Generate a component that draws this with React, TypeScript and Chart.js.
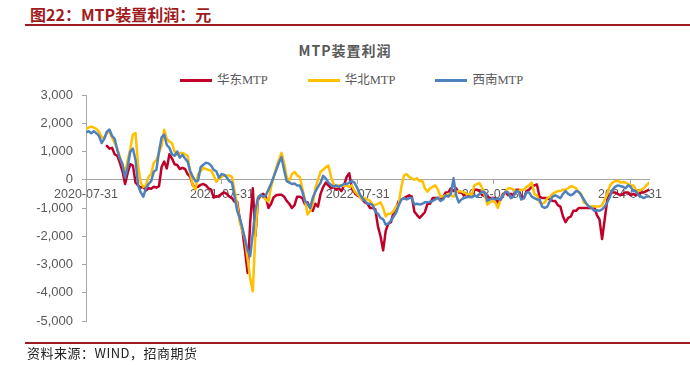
import React, { useEffect, useRef } from "react";
import { Chart, registerables } from "chart.js";

Chart.register(...registerables);

// Weekly observations starting 2020-07-31 (index * 7 days)
const WEEK_DAYS = 7;
const tickDays = [0, 365, 730, 1095, 1461];
const tickLabels = ["2020-07-31", "2021-07-31", "2022-07-31", "2023-07-31", "2024-07-31"];
const seriesNames = ["华东MTP", "华北MTP", "西南MTP"];
const seriesColors = ["#C00028", "#FFC000", "#4F81BD"];

const huadong: (number | null)[] = [
  null, null, null, null, null, null, null, null, 1200, 1100,
  1130, 900, 850, 600, 300, -150, 250, 550, 500, -100,
  -200, -280, -250, -380, -300, -320, -250, -280, -230, 450,
  640, 400, 900, 750, 550, 520, 380, 420, 380, 200,
  100, -200, -260, -250, -180, -150, -200, -300, -350, -630,
  -580, -600, -500, -450, -500, -600, -650, -780, -780, -1400,
  -1800, -2500, -3300, -1500, -300, -2000, -700, -550, -500, -600,
  -1000, -850, -620, -550, -530, -530, -600, -750, -850, -1000,
  -900, -600, -600, -650, -870, -800, -1000, -1100, -850, -950,
  -500, -250, -100, -200, -300, -250, -350, -300, -400, -200,
  100, 230, -300, -450, -550, -600, -700, -800, -850, -1000,
  -1000, -1050, -1650, -2000, -2500, -1800, -1550, -1500, -1150, -1000,
  -750, -700, -650, -600, -550, -600, -1130, -1250, -1350, -1250,
  -1150, -850, -850, -650, -650, -650, -700, -600, -450, -450,
  -300, -400, -300, -450, -450, -550, -500, -550, -550, -350,
  -350, -400, -550, -550, -600, -650, -650, -650, -800, -700,
  -500, -450, -550, -500, -550, -350, -350, -600, -650, -400,
  -350, -250, -200, -170, -600, -650, -650, -650, -700, -750,
  -750, -900, -950, -1300, -1500, -1350, -1300, -1100, -1100, -1000,
  -1000, -1000, -1000, -1000, -1000, -950, -1250, -1400, -2100, -1400,
  -700, -500, -450, -450, -500, -550, -500, -450, -450, -550,
  -500, -550, -500, -450, -450, -400, -350,
];

const huabei: number[] = [
  1800, 1850, 1880, 1850, 1800, 1700, 1500, 1480, 1650, 1700,
  1500, 1300, 1100, 800, 550, 200, 700, 1100, 1600, 1650,
  500, -100, -250, -200, 100, 200, 600, 700, 950, 1200,
  1770, 1450, 1350, 1300, 1000, 880, 950, 950, 900, 850,
  200, -200, -350, 200, 300, 420, 380, 350, 320, 150,
  -70, 50, 100, 150, 150, 150, 100, -400, -900, -1500,
  -1800, -2100, -2800, -3500, -3950, -1900, -600, -550, -620, -700,
  -780, -250, 100, 420, 700, 950, 600, 100, -50, 200,
  280, 150, 100, -300, -700, -1230, -1100, -880, -300, 0,
  280, 350, 450, 500, 100, -150, -250, -200, -200, -220,
  -200, -250, -200, -400, -500, -600, -700, -650, -700, -750,
  -880, -900, -850, -800, -1000, -1300, -1200, -1200, -1100, -950,
  -850, -250, 150, 200, 100, 50, 0, 50, -50, -30,
  -300, -420, -300, -250, -200, -350, -600, -580, -550, -500,
  -550, -600, -450, -400, -420, -450, -500, -500, -550, -200,
  -150, -120, -300, -550, -880, -800, -750, -800, -1000, -700,
  -550, -400, -300, -300, -350, -400, -400, -350, -350, -250,
  -200, -100, -500, -550, -800, -850, -800, -650, -600, -500,
  -450, -400, -400, -350, -350, -300, -230, -250, -300, -450,
  -500, -800, -850, -950, -950, -950, -950, -950, -900, -700,
  -500, -200, -100, -50, -30, -100, -80, -100, -150, -200,
  -200, -350, -400, -350, -300, -200, -100,
];

const xinan: number[] = [
  1680, 1720, 1650, 1720, 1650, 1550, 1300, 1450, 1700, 1780,
  1550, 1450, 1060, 750, 550, 70, 460, 1000, 1100, 700,
  -200, -450, -600, -300, -150, -50, 280, 350, 1000, 1500,
  1600, 1230, 1130, 900, 850, 1000, 780, 880, 750, 640,
  300, 100, -50, -30, 450, 530, 600, 580, 500, 350,
  300, 70, 200, 180, 80, -50, -100, -600, -1100, -1350,
  -1700, -2100, -2500, -2700, -1900, -1060, -640, -530, -600, -550,
  -350, -140, 100, 350, 600, 800, 350, -50, -100, -150,
  -130, -200, -200, -420, -750, -850, -1000, -640, -420, -250,
  -100, 140, 50, -100, -180, -250, -200, -250, -200, -150,
  -150, -100, -50, -100, -280, -500, -650, -750, -850, -850,
  -900, -1130, -1200, -1350, -1400, -1590, -1550, -1450, -1300, -1160,
  -900, -700, -650, -700, -650, -650, -880, -850, -880, -850,
  -800, -800, -780, -750, -700, -630, -750, -700, -550, -600,
  -500, 50, -550, -800, -700, -650, -620, -600, -620, -550,
  -600, -500, -420, -450, -750, -700, -650, -700, -650, -720,
  -550, -420, -450, -650, -600, -400, -420, -700, -650, -450,
  -450, -600, -650, -700, -700, -950, -1000, -950, -750, -600,
  -550, -600, -650, -500, -400, -500, -550, -500, -400, -420,
  -550, -700, -850, -950, -1000, -1100, -1080, -1100, -1050, -950,
  -800, -600, -350, -250, -200, -220, -250, -300, -200, -250,
  -400, -400, -550, -600, -650, -600, -580,
];

const seriesValues = [huadong, huabei, xinan];
const drawOrder = [2, 1, 0];

const DARK_RED = "#9E1B20";
const GREY = "#595959";
const AXIS = "#A6A6A6";
const CJK = '"Noto Sans CJK SC", "Liberation Sans", sans-serif';

export default function App() {
  const canvasRef = useRef<HTMLCanvasElement | null>(null);

  useEffect(() => {
    if (!canvasRef.current) return;
    const datasets = seriesValues.map((arr, k) => ({
      label: seriesNames[k],
      data: arr.map((v, i) => ({ x: i * WEEK_DAYS, y: v })),
      borderColor: seriesColors[k],
      backgroundColor: seriesColors[k],
      borderWidth: 2.5,
      borderJoinStyle: "round" as const,
      borderCapStyle: "round" as const,
      pointRadius: 0,
      tension: 0,
      order: drawOrder[k],
    }));
    const lastDay = (huabei.length - 1) * WEEK_DAYS;
    const tickFont = { family: '"Liberation Sans", Arial, sans-serif', size: 13 };
    const chart = new Chart(canvasRef.current, {
      type: "line",
      data: { datasets },
      options: {
        animation: false,
        responsive: true,
        maintainAspectRatio: false,
        layout: { padding: { left: 0, top: 95, right: 41, bottom: 44 } },
        plugins: {
          legend: { display: false },
          title: { display: false },
          tooltip: { enabled: false },
        },
        scales: {
          x: {
            type: "linear",
            position: { y: 0 } as any,
            min: 0,
            max: lastDay,
            afterBuildTicks: (s: any) => {
              s.ticks = tickDays.map((v) => ({ value: v }));
            },
            afterFit: (s: any) => {
              s.height = 0;
            },
            ticks: {
              autoSkip: false,
              maxRotation: 0,
              minRotation: 0,
              padding: 3,
              color: GREY,
              font: { ...tickFont, size: 12.5 },
              callback: (v: any) => {
                const idx = tickDays.indexOf(Number(v));
                return idx >= 0 ? tickLabels[idx] : "";
              },
            },
            grid: {
              display: true,
              drawOnChartArea: false,
              drawTicks: true,
              tickLength: 4,
              color: AXIS,
            },
            border: { display: true, color: AXIS, width: 1 },
          },
          y: {
            type: "linear",
            min: -5000,
            max: 3000,
            afterFit: (s: any) => {
              s.width = 86;
            },
            ticks: {
              stepSize: 1000,
              padding: 9,
              color: GREY,
              font: tickFont,
              callback: (v: any) => Number(v).toLocaleString("en-US"),
            },
            grid: {
              display: true,
              drawOnChartArea: false,
              drawTicks: true,
              tickLength: 4,
              color: AXIS,
            },
            border: { display: true, color: AXIS, width: 1 },
          },
        },
      },
    });
    return () => chart.destroy();
  }, []);

  return (
    <div
      style={{
        position: "fixed",
        left: 0,
        top: 0,
        width: 690,
        height: 365,
        background: "#fff",
        overflow: "hidden",
      }}
    >
      <div
        style={{
          position: "absolute",
          left: 30,
          top: 5,
          lineHeight: "18px",
          fontFamily: CJK,
          fontWeight: 700,
          fontSize: 16,
          color: DARK_RED,
          whiteSpace: "nowrap",
        }}
      >
        图22：MTP装置利润：元
      </div>
      <div style={{ position: "absolute", left: 25, top: 24, width: 665, height: 2, background: DARK_RED }} />
      <div
        style={{
          position: "absolute",
          left: 0,
          width: 690,
          top: 41,
          textAlign: "center",
          lineHeight: "18px",
          fontFamily: CJK,
          fontWeight: 700,
          fontSize: 14,
          letterSpacing: 1,
          color: GREY,
          whiteSpace: "nowrap",
        }}
      >
        MTP装置利润
      </div>
      <div
        style={{
          position: "absolute",
          left: 180,
          top: 72,
          height: 16,
          display: "flex",
          alignItems: "center",
          gap: 40,
          fontFamily: '"Liberation Serif", "Noto Sans CJK SC", serif',
          fontSize: 12.5,
          color: GREY,
          whiteSpace: "nowrap",
        }}
      >
        {seriesNames.map((n, k) => (
          <div key={n} style={{ display: "flex", alignItems: "center" }}>
            <div style={{ width: 32, height: 3, background: seriesColors[k], marginRight: 5 }} />
            <span style={{ lineHeight: "16px" }}>{n}</span>
          </div>
        ))}
      </div>
      <div style={{ position: "absolute", left: 0, top: 0, width: 690, height: 365 }}>
        <canvas ref={canvasRef} />
      </div>
      <div style={{ position: "absolute", left: 25, top: 342, width: 665, height: 2, background: DARK_RED }} />
      <div
        style={{
          position: "absolute",
          left: 27,
          top: 345,
          lineHeight: "16px",
          fontFamily: CJK,
          fontSize: 13,
          letterSpacing: 0.5,
          color: "#222",
          whiteSpace: "nowrap",
        }}
      >
        资料来源：WIND，招商期货
      </div>
    </div>
  );
}
